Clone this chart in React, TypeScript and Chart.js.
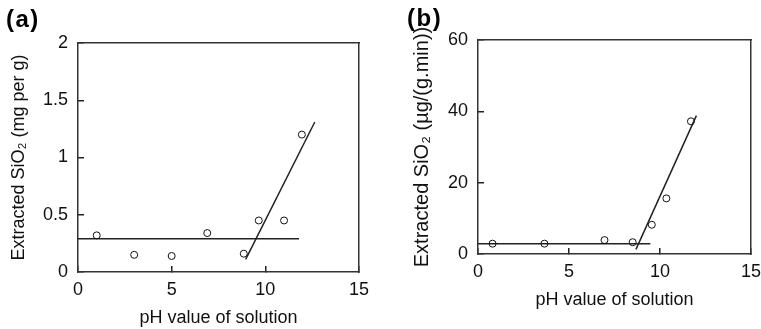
import React, { useEffect, useRef } from 'react';
import { Chart, registerables } from 'chart.js';

Chart.register(...registerables);

const FONT = '"Liberation Sans", Arial, Helvetica, sans-serif';

// ---- Panel (a): extracted SiO2 (mg per g) vs pH ----
const phA = [1.0, 3.0, 5.0, 6.9, 8.85, 9.65, 11.0, 11.95];
const sio2A = [0.32, 0.15, 0.14, 0.34, 0.16, 0.45, 0.45, 1.2];
const flatFitAx = [0, 11.8];
const flatFitAy = [0.29, 0.29];
const steepFitAx = [8.95, 12.64];
const steepFitAy = [0.11, 1.31];
const yTicksA = [0, 0.5, 1, 1.5, 2];

// ---- Panel (b): extracted SiO2 rate (µg/(g.min)) vs pH ----
const phB = [0.8, 3.65, 6.95, 8.5, 9.55, 10.35, 11.7];
const rateB = [2.9, 2.9, 3.9, 3.3, 8.2, 15.6, 37.2];
const flatFitBx = [0, 9.47];
const flatFitBy = [2.9, 2.9];
const steepFitBx = [8.68, 12.0];
const steepFitBy = [1.3, 38.8];
const yTicksB = [0, 20, 40, 60];

const xTicks = [0, 5, 10, 15];

const xTitle = 'pH value of solution';
const yTitleA = 'Extracted SiO\u2082 (mg per g)';
const yTitleB = 'Extracted SiO\u2082 (\u00b5g/(g.min))';

type PanelSpec = {
  xs: number[];
  ys: number[];
  fits: [number[], number[]][];
  yTicks: number[];
  yTitle: string;
  yTitleSize: number;
  yWidth: number;
  xHeight: number;
  padTop: number;
  padRight: number;
  xLabelPad: number;
  xTitlePadBottom: number;
  yTitlePadTop: number;
};

const INK = '#111';
const FRAME = '#333';

function pts(xs: number[], ys: number[]) {
  return xs.map((x, i) => ({ x, y: ys[i] }));
}

function makeConfig(p: PanelSpec): any {
  const yMin = p.yTicks[0];
  const yMax = p.yTicks[p.yTicks.length - 1];
  const xMin = xTicks[0];
  const xMax = xTicks[xTicks.length - 1];
  const tickFont = { family: FONT, size: 18 };
  const border = { display: true, color: FRAME, width: 1.5 };
  const innerTicks = {
    display: true,
    drawOnChartArea: false,
    drawTicks: true,
    tickLength: -6,
    color: '#222',
    lineWidth: 1.5,
    tickColor: '#222',
    tickWidth: 1.5,
  };
  const noPad = (s: any) => {
    s.paddingLeft = 0;
    s.paddingRight = 0;
    s.paddingTop = 0;
    s.paddingBottom = 0;
  };
  return {
    type: 'scatter',
    data: {
      datasets: [
        {
          data: pts(p.xs, p.ys),
          pointStyle: 'circle',
          pointRadius: 3.5,
          pointBorderWidth: 1,
          borderColor: INK,
          backgroundColor: 'rgba(0,0,0,0)',
          pointBackgroundColor: 'rgba(0,0,0,0)',
          pointBorderColor: INK,
        },
        ...p.fits.map(([fx, fy]) => ({
          data: pts(fx, fy),
          showLine: true,
          pointRadius: 0,
          borderColor: '#222',
          borderWidth: 1.5,
          backgroundColor: 'rgba(0,0,0,0)',
        })),
      ],
    },
    options: {
      animation: false,
      responsive: false,
      maintainAspectRatio: false,
      layout: { padding: { top: p.padTop, right: p.padRight, left: 0, bottom: 0 } },
      plugins: { legend: { display: false }, tooltip: { enabled: false } },
      scales: {
        x: {
          type: 'linear',
          position: 'bottom',
          min: xMin,
          max: xMax,
          afterBuildTicks: (s: any) => {
            s.ticks = xTicks.map((v) => ({ value: v }));
          },
          afterFit: (s: any) => {
            s.height = p.xHeight;
            noPad(s);
          },
          grid: innerTicks,
          border,
          ticks: {
            color: INK,
            font: tickFont,
            padding: p.xLabelPad,
            maxRotation: 0,
            callback: (v: any) => String(v),
          },
          title: {
            display: true,
            text: xTitle,
            color: INK,
            font: { family: FONT, size: 18 },
            padding: { top: 0, bottom: p.xTitlePadBottom },
          },
        },
        y: {
          type: 'linear',
          position: 'left',
          min: yMin,
          max: yMax,
          afterBuildTicks: (s: any) => {
            s.ticks = p.yTicks.map((v) => ({ value: v }));
          },
          afterFit: (s: any) => {
            s.width = p.yWidth;
            noPad(s);
          },
          grid: innerTicks,
          border,
          ticks: { color: INK, font: tickFont, padding: 16, callback: (v: any) => String(v) },
          title: {
            display: true,
            text: p.yTitle,
            color: INK,
            font: { family: FONT, size: p.yTitleSize },
            padding: { top: p.yTitlePadTop, bottom: 0 },
          },
        },
        xTop: {
          type: 'linear',
          position: 'top',
          min: xMin,
          max: xMax,
          afterFit: (s: any) => {
            s.height = 0;
            noPad(s);
          },
          grid: { display: false, drawOnChartArea: false, drawTicks: false },
          border,
          ticks: { display: false },
        },
        yRight: {
          type: 'linear',
          position: 'right',
          min: yMin,
          max: yMax,
          afterFit: (s: any) => {
            s.width = 0;
            noPad(s);
          },
          grid: { display: false, drawOnChartArea: false, drawTicks: false },
          border,
          ticks: { display: false },
        },
      },
    },
  };
}

const specA: PanelSpec = {
  xs: phA,
  ys: sio2A,
  fits: [
    [flatFitAx, flatFitAy],
    [steepFitAx, steepFitAy],
  ],
  yTicks: yTicksA,
  yTitle: yTitleA,
  yTitleSize: 18,
  yWidth: 78,
  xHeight: 57,
  padTop: 43,
  padRight: 21,
  xLabelPad: 13,
  xTitlePadBottom: 0,
  yTitlePadTop: 8,
};

const specB: PanelSpec = {
  xs: phB,
  ys: rateB,
  fits: [
    [flatFitBx, flatFitBy],
    [steepFitBx, steepFitBy],
  ],
  yTicks: yTicksB,
  yTitle: yTitleB,
  yTitleSize: 20,
  yWidth: 98,
  xHeight: 75,
  padTop: 40,
  padRight: 10,
  xLabelPad: 13,
  xTitlePadBottom: 18,
  yTitlePadTop: 30,
};

function Panel({ spec, left, width }: { spec: PanelSpec; left: number; width: number }) {
  const ref = useRef<HTMLCanvasElement>(null);
  useEffect(() => {
    const chart = new Chart(ref.current as HTMLCanvasElement, makeConfig(spec));
    return () => chart.destroy();
  }, [spec]);
  return (
    <canvas
      ref={ref}
      width={width}
      height={329}
      style={{ position: 'absolute', left, top: 0, width, height: 329 }}
    />
  );
}

const labelStyle: React.CSSProperties = {
  position: 'absolute',
  font: `bold 24px ${FONT}`,
  lineHeight: '24px',
  letterSpacing: '1.5px',
  color: '#000',
};

export default function App() {
  return (
    <div
      style={{
        position: 'absolute',
        left: 0,
        top: 0,
        width: 761,
        height: 329,
        background: '#fff',
        overflow: 'hidden',
      }}
    >
      <Panel spec={specA} left={0} width={380} />
      <Panel spec={specB} left={380} width={381} />
      <div style={{ ...labelStyle, left: 6, top: 7 }}>(a)</div>
      <div style={{ ...labelStyle, left: 407, top: 6 }}>(b)</div>
    </div>
  );
}
